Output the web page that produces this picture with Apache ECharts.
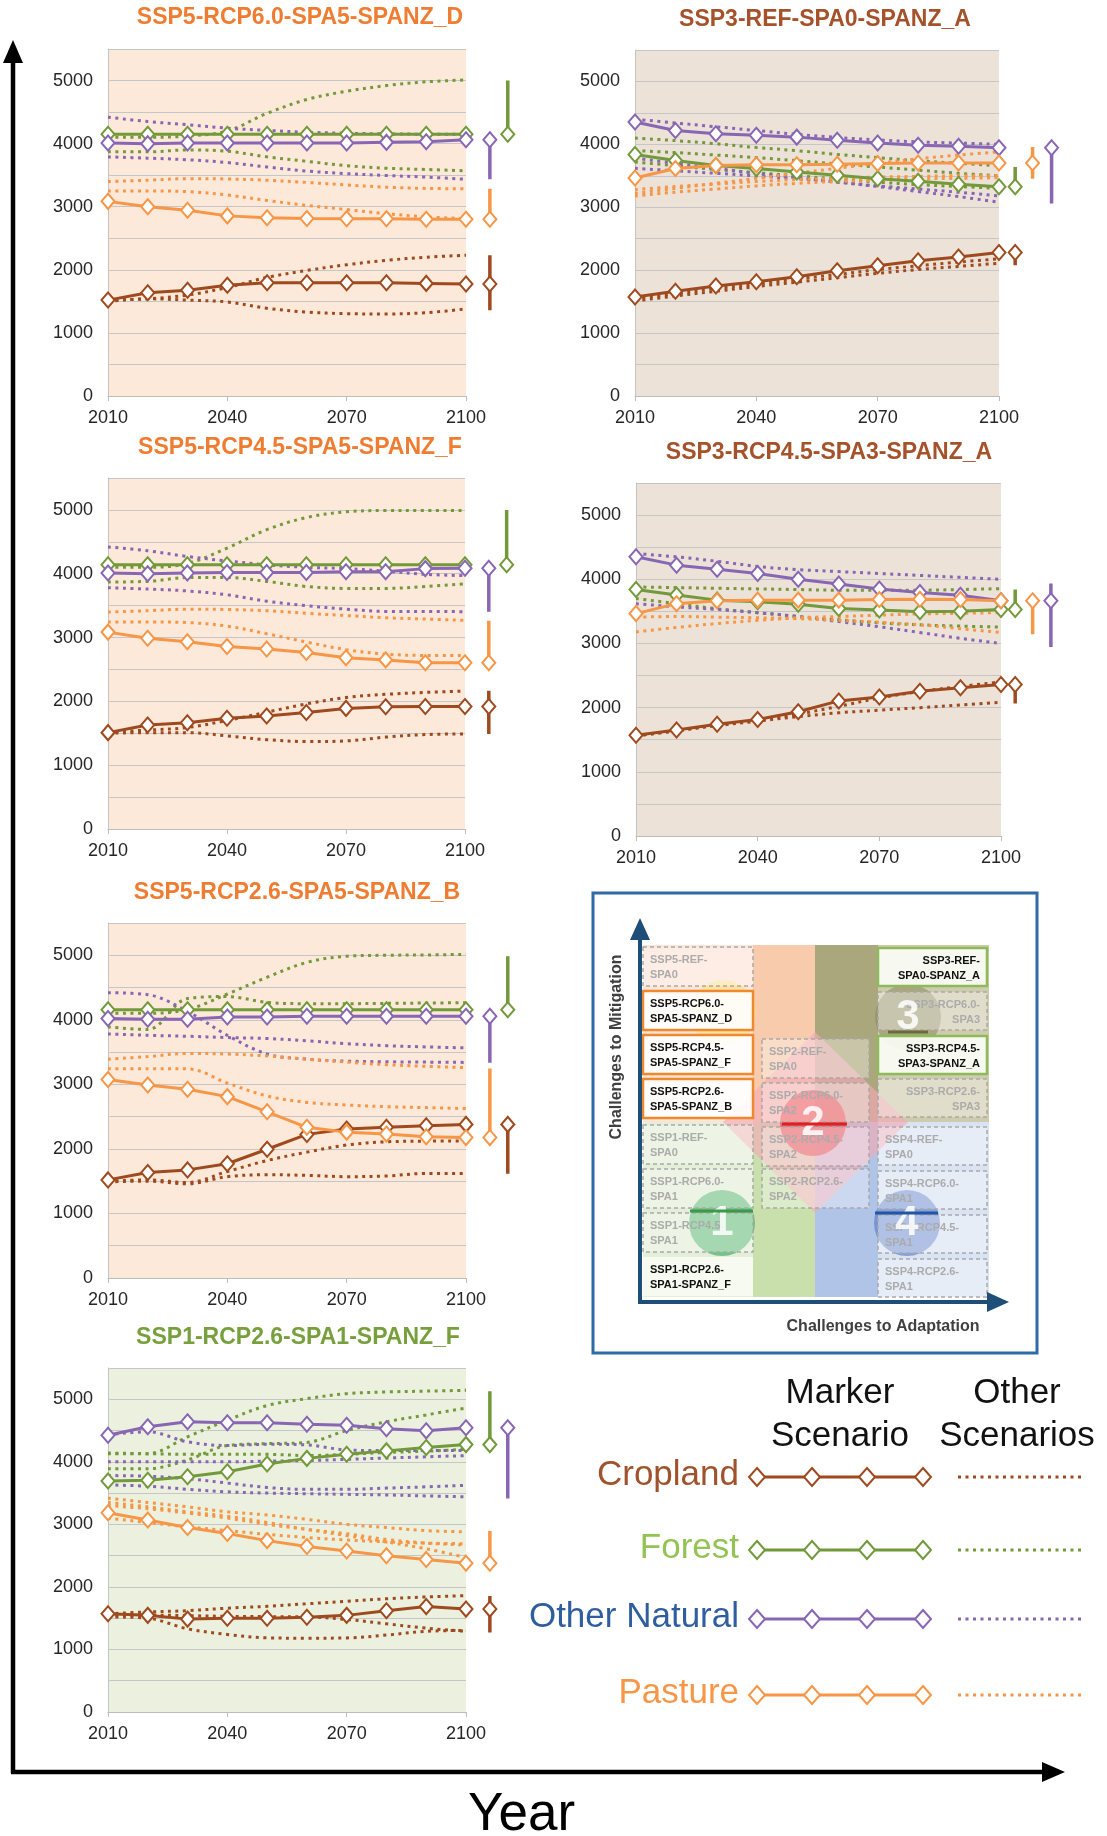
<!DOCTYPE html>
<html><head><meta charset="utf-8">
<script src="https://cdn.jsdelivr.net/npm/echarts@6/dist/echarts.min.js"></script>
<style>html,body{margin:0;padding:0;background:#fff}#c{width:1107px;height:1836px}</style>
</head><body><div id="c"></div>
<script>
// ---------- data ----------
const YEARS = [2010,2020,2030,2040,2050,2060,2070,2080,2090,2100];
const LAND_NAMES = ['Cropland','Forest','Other Natural','Pasture'];
const PANEL_TITLES = ['SSP5-RCP6.0-SPA5-SPANZ_D','SSP3-REF-SPA0-SPANZ_A','SSP5-RCP4.5-SPA5-SPANZ_F','SSP3-RCP4.5-SPA3-SPANZ_A','SSP5-RCP2.6-SPA5-SPANZ_B','SSP1-RCP2.6-SPA1-SPANZ_F'];

// Panel 1: SSP5-RCP6.0
const P1_CROP = [1520,1635,1675,1755,1795,1795,1795,1795,1785,1775];
const P1_FOR  = [4150,4150,4150,4150,4150,4150,4150,4150,4150,4150];
const P1_NAT  = [4010,4000,4010,4010,4010,4010,4010,4020,4030,4060];
const P1_PAS  = [3085,3000,2945,2855,2825,2815,2810,2810,2800,2800];
const P1_CROP_O = [[1520,1540,1600,1720,1880,1990,2080,2150,2200,2230],[1500,1540,1520,1490,1390,1330,1305,1300,1320,1380]];
const P1_FOR_O  = [[4100,4100,4120,4200,4480,4700,4830,4920,4980,5010],[3870,3870,3900,3880,3790,3720,3650,3610,3590,3570]];
const P1_NAT_O  = [[4420,4350,4300,4245,4210,4180,4165,4155,4150,4150],[3790,3770,3745,3700,3630,3565,3525,3495,3470,3435]];
const P1_PAS_O  = [[3400,3420,3445,3440,3420,3385,3345,3310,3290,3285],[3250,3250,3240,3185,3100,3020,2955,2890,2840,2810]];
const P1_RANGE_LO = [1360,4150,3435,2800];
const P1_RANGE_HI = [2230,5000,4060,3285];
const P1_RANGE_X  = [2106,2110.5,2106,2106];

// Panel 2: SSP3-REF
const P2_CROP = [1575,1665,1750,1815,1895,1990,2070,2150,2210,2280];
const P2_FOR  = [3840,3745,3665,3615,3560,3510,3455,3415,3365,3325];
const P2_NAT  = [4355,4220,4170,4145,4115,4065,4020,3985,3970,3945];
const P2_PAS  = [3465,3615,3665,3675,3675,3685,3695,3705,3705,3705];
const P2_CROP_O = [[1550,1630,1710,1780,1860,1930,2010,2070,2130,2180],[1510,1590,1665,1740,1810,1880,1950,2010,2060,2110]];
const P2_FOR_O  = [[4100,4060,4010,3950,3900,3840,3790,3740,3700,3660],[3900,3870,3830,3790,3740,3690,3640,3590,3540,3500],[3720,3660,3600,3550,3500,3450,3400,3360,3330,3300]];
const P2_NAT_O  = [[4400,4340,4280,4220,4160,4110,4070,4040,4020,4000],[3780,3700,3620,3540,3470,3400,3330,3250,3170,3080],[3620,3580,3540,3500,3450,3400,3340,3290,3240,3180]];
const P2_PAS_O  = [[3220,3300,3380,3460,3540,3620,3700,3770,3830,3880],[3280,3330,3370,3410,3440,3460,3480,3490,3500,3500],[3180,3240,3290,3340,3380,3410,3430,3450,3460,3470]];
const P2_RANGE_LO = [2080,3325,3060,3455];
const P2_RANGE_HI = [2300,3640,3945,3960];
const P2_RANGE_X  = [2104,2104,2113,2108.3];

// Panel 3: SSP5-RCP4.5
const P3_CROP = [1510,1630,1665,1735,1770,1825,1890,1915,1920,1920];
const P3_FOR  = [4140,4140,4140,4140,4140,4140,4140,4140,4140,4140];
const P3_NAT  = [4010,4000,4010,4020,4020,4020,4030,4030,4080,4085];
const P3_PAS  = [3085,2990,2935,2860,2820,2765,2685,2650,2605,2605];
const P3_CROP_O = [[1520,1550,1590,1700,1830,1960,2060,2110,2140,2160],[1500,1510,1510,1460,1400,1370,1380,1440,1480,1490]];
const P3_FOR_O  = [[4100,4100,4160,4400,4690,4880,4970,4990,4990,4990],[3870,3880,3940,3940,3880,3800,3770,3770,3800,3840]];
const P3_NAT_O  = [[4420,4360,4270,4200,4140,4100,4080,4040,3990,3970],[3780,3760,3730,3670,3570,3500,3445,3410,3410,3405]];
const P3_PAS_O  = [[3400,3420,3445,3440,3420,3380,3345,3310,3290,3270],[3245,3245,3235,3180,3060,2930,2810,2740,2720,2720]];
const P3_RANGE_LO = [1490,4140,3405,2605];
const P3_RANGE_HI = [2165,5000,4090,3265];
const P3_RANGE_X  = [2106,2110.5,2106,2106];

// Panel 4: SSP3-RCP4.5
const P4_CROP = [1570,1650,1740,1815,1935,2105,2165,2255,2310,2360];
const P4_FOR  = [3840,3755,3675,3650,3610,3545,3520,3495,3500,3530];
const P4_NAT  = [4350,4220,4155,4090,4000,3925,3850,3795,3750,3665];
const P4_PAS  = [3465,3620,3665,3675,3675,3675,3685,3690,3685,3665];
const P4_CROP_O = [[1560,1640,1730,1800,1900,2020,2150,2250,2330,2400],[1560,1640,1720,1790,1860,1920,1960,2000,2040,2085]];
const P4_FOR_O  = [[3880,3870,3860,3850,3840,3830,3830,3830,3840,3855],[3700,3620,3540,3480,3420,3370,3320,3290,3270,3255]];
const P4_NAT_O  = [[4400,4350,4280,4200,4150,4120,4090,4060,4030,4000],[3620,3570,3530,3480,3420,3340,3260,3170,3080,3000]];
const P4_PAS_O  = [[3410,3420,3410,3400,3385,3360,3330,3290,3230,3170],[3180,3250,3310,3360,3400,3420,3440,3460,3470,3480]];
const P4_RANGE_LO = [2065,3465,2945,3145];
const P4_RANGE_HI = [2375,3840,3935,3665];
const P4_RANGE_X  = [2103.5,2103.5,2112.3,2107.8];

// Panel 5: SSP5-RCP2.6
const P5_CROP = [1520,1635,1675,1770,1995,2225,2310,2335,2360,2380];
const P5_FOR  = [4155,4155,4155,4155,4155,4155,4155,4155,4155,4155];
const P5_NAT  = [4020,4010,4010,4045,4045,4055,4055,4055,4055,4055];
const P5_PAS  = [3075,2990,2925,2810,2575,2335,2260,2230,2190,2175];
const P5_CROP_O = [[1500,1520,1480,1650,1820,1950,2060,2110,2120,2125],[1490,1500,1460,1570,1600,1590,1570,1580,1620,1620]];
const P5_FOR_O  = [[4100,4100,4160,4400,4660,4890,4985,5000,5005,5015],[3890,3850,4330,4360,4270,4250,4250,4255,4260,4265]];
const P5_NAT_O  = [[4420,4390,4130,3760,3470,3390,3360,3350,3345,3340],[3780,3760,3745,3725,3710,3675,3630,3600,3580,3565]];
const P5_PAS_O  = [[3390,3430,3480,3470,3440,3390,3345,3305,3280,3260],[3240,3240,3240,3020,2820,2720,2680,2655,2640,2625]];
const P5_RANGE_LO = [1615,4150,3335,2165];
const P5_RANGE_HI = [2395,4985,4055,3245];
const P5_RANGE_X  = [2110.5,2110.5,2106,2106];

// Panel 6: SSP1-RCP2.6
const P6_CROP = [1570,1545,1485,1500,1500,1515,1545,1620,1685,1645];
const P6_FOR  = [3695,3705,3760,3840,3965,4055,4120,4175,4230,4275];
const P6_NAT  = [4425,4560,4640,4625,4625,4600,4585,4530,4495,4545];
const P6_PAS  = [3185,3070,2950,2855,2740,2645,2575,2500,2440,2380];
const P6_CROP_O = [[1570,1600,1620,1660,1690,1730,1770,1810,1840,1860],[1520,1500,1330,1240,1185,1180,1185,1230,1290,1305],[1550,1550,1540,1530,1525,1520,1480,1410,1340,1290]];
const P6_FOR_O  = [[4130,4130,4400,4665,4900,5010,5090,5117,5130,5144],[3890,3890,4030,4260,4290,4310,4500,4640,4750,4860],[4140,4130,4120,4120,4120,4100,4120,4150,4170,4200]];
const P6_NAT_O  = [[4430,4480,4320,4260,4280,4270,4190,4180,4180,4180],[4000,4000,4000,4000,4010,4020,4040,4060,4080,4100],[3780,3770,3730,3660,3590,3560,3560,3580,3600,3625],[3630,3610,3560,3520,3500,3490,3480,3470,3455,3440]];
const P6_PAS_O  = [[3420,3350,3280,3200,3150,3080,3000,2950,2900,2880],[3300,3250,3180,3100,3000,2920,2850,2760,2700,2670],[3350,3280,3200,3130,3030,2920,2820,2720,2610,2470],[3100,3030,2960,2900,2840,2790,2750,2720,2700,2690]];
const P6_RANGE_LO = [1270,4275,3415,2380];
const P6_RANGE_HI = [1855,5130,4545,2895];
const P6_RANGE_X  = [2106,2106,2110.5,2106];

// ---------- assembly ----------
const LAND_COLORS = ['#9E4A1E','#72993A','#8866B4','#F79646'];
const FONT = 'Liberation Sans, Arial, sans-serif';
const PANELS = [
  {m:[P1_CROP,P1_FOR,P1_NAT,P1_PAS], o:[P1_CROP_O,P1_FOR_O,P1_NAT_O,P1_PAS_O], lo:P1_RANGE_LO, hi:P1_RANGE_HI, rx:P1_RANGE_X},
  {m:[P2_CROP,P2_FOR,P2_NAT,P2_PAS], o:[P2_CROP_O,P2_FOR_O,P2_NAT_O,P2_PAS_O], lo:P2_RANGE_LO, hi:P2_RANGE_HI, rx:P2_RANGE_X},
  {m:[P3_CROP,P3_FOR,P3_NAT,P3_PAS], o:[P3_CROP_O,P3_FOR_O,P3_NAT_O,P3_PAS_O], lo:P3_RANGE_LO, hi:P3_RANGE_HI, rx:P3_RANGE_X},
  {m:[P4_CROP,P4_FOR,P4_NAT,P4_PAS], o:[P4_CROP_O,P4_FOR_O,P4_NAT_O,P4_PAS_O], lo:P4_RANGE_LO, hi:P4_RANGE_HI, rx:P4_RANGE_X},
  {m:[P5_CROP,P5_FOR,P5_NAT,P5_PAS], o:[P5_CROP_O,P5_FOR_O,P5_NAT_O,P5_PAS_O], lo:P5_RANGE_LO, hi:P5_RANGE_HI, rx:P5_RANGE_X},
  {m:[P6_CROP,P6_FOR,P6_NAT,P6_PAS], o:[P6_CROP_O,P6_FOR_O,P6_NAT_O,P6_PAS_O], lo:P6_RANGE_LO, hi:P6_RANGE_HI, rx:P6_RANGE_X}
];
const LAYOUT = [
  {left:108, top:49,   width:358, height:347, bg:'#FDE9D9', tc:'#EF7C30', tx:300, ty:18},
  {left:635, top:50,   width:364, height:346, bg:'#ECE2D7', tc:'#A5512A', tx:825, ty:20},
  {left:108, top:478,  width:357, height:351, bg:'#FDE9D9', tc:'#EF7C30', tx:300, ty:448},
  {left:636, top:483,  width:365, height:353, bg:'#ECE2D7', tc:'#A5512A', tx:829, ty:453},
  {left:108, top:923,  width:358, height:355, bg:'#FDE9D9', tc:'#EF7C30', tx:297, ty:893},
  {left:108, top:1368, width:358, height:344, bg:'#EBF1DE', tc:'#77A03C', tx:298, ty:1338}
];
const RANGE_XMAX = 2115;

const grids=[], xAxes=[], yAxes=[], series=[];
const pts = arr => YEARS.map((y,k)=>[y, arr[k]]);
const N = LAYOUT.length;
LAYOUT.forEach((L,i)=>{
  grids.push({left:L.left, top:L.top, width:L.width, height:L.height, show:true, backgroundColor:L.bg, borderWidth:0});
  xAxes.push({gridIndex:i, type:'value', min:2010, max:2100, interval:30,
    axisLine:{lineStyle:{color:'#bdbdbd', width:1}}, axisTick:{show:true, length:5, lineStyle:{color:'#bdbdbd'}},
    splitLine:{show:false},
    axisLabel:{fontSize:18, color:'#262626', margin:13, fontFamily:FONT, formatter:v=>String(v)}});
  yAxes.push({gridIndex:i, type:'value', min:0, max:5500, interval:500,
    axisLine:{show:true, lineStyle:{color:'#c4c4c4'}}, axisTick:{show:false},
    splitLine:{lineStyle:{color:'#c6c6c6', width:1}},
    axisLabel:{fontSize:18, color:'#262626', margin:15, fontFamily:FONT, formatter:v=> v%1000===0 ? String(v) : ''}});
  const P = PANELS[i];
  P.o.forEach((group,li)=>{
    group.forEach(arr=>{
      series.push({type:'line', xAxisIndex:i, yAxisIndex:i, data:pts(arr), symbol:'none', smooth:0.35, silent:true, z:2,
        lineStyle:{color:LAND_COLORS[li], width:3, type:[3,4.5], cap:'butt'}});
    });
  });
  P.m.forEach((arr,li)=>{
    series.push({type:'line', xAxisIndex:i, yAxisIndex:i, data:pts(arr), symbol:'diamond', symbolSize:[13,15], showSymbol:true, silent:true, z:3,
      lineStyle:{color:LAND_COLORS[li], width:3}, itemStyle:{color:'#fff', borderColor:LAND_COLORS[li], borderWidth:2}});
  });
});
// wider, invisible grids sharing each panel's scale, for the 2100 range bars beside the plots
LAYOUT.forEach((L,i)=>{
  const gi = N + i;
  grids.push({left:L.left, top:L.top, width:L.width*(RANGE_XMAX-2010)/90, height:L.height, show:false});
  xAxes.push({gridIndex:gi, type:'value', min:2010, max:RANGE_XMAX, show:false});
  yAxes.push({gridIndex:gi, type:'value', min:0, max:5500, show:false});
  const P = PANELS[i];
  P.m.forEach((arr,li)=>{
    series.push({type:'line', xAxisIndex:gi, yAxisIndex:gi, silent:true, z:4, symbol:'none',
      data:[[P.rx[li], P.lo[li]],[P.rx[li], P.hi[li]]], lineStyle:{color:LAND_COLORS[li], width:3.5}});
    series.push({type:'scatter', xAxisIndex:gi, yAxisIndex:gi, silent:true, z:5,
      data:[[P.rx[li], arr[arr.length-1]]], symbol:'diamond', symbolSize:[13,15],
      itemStyle:{color:'#fff', borderColor:LAND_COLORS[li], borderWidth:2, opacity:1}});
  });
});

// ---------- graphic helpers ----------
const G=[];
function T(x,y,text,font,fill,align,va,rot){ G.push({type:'text', x:x, y:y, rotation:rot||0, z:20, silent:true,
  style:{text:text, font:font, fill:fill, align:align||'center', textAlign:align||'center', verticalAlign:va||'middle', textVerticalAlign:va||'middle'}}); }
function R(x,y,w,h,fill,stroke,lw,dash,z){ G.push({type:'rect', z:z||10, silent:true, shape:{x:x,y:y,width:w,height:h},
  style:{fill:fill||'none', stroke:stroke||null, lineWidth:lw||0, lineDash:dash||null}}); }
function Ln(x1,y1,x2,y2,stroke,lw,dash,z){ G.push({type:'line', z:z||10, silent:true, shape:{x1:x1,y1:y1,x2:x2,y2:y2},
  style:{stroke:stroke, lineWidth:lw, lineDash:dash||null, lineCap:'butt'}}); }
function Pg(points,fill,stroke,lw,z){ G.push({type:'polygon', z:z||10, silent:true, shape:{points:points},
  style:{fill:fill, stroke:stroke||null, lineWidth:lw||0}}); }
function C(cx,cy,r,fill,z){ G.push({type:'circle', z:z||10, silent:true, shape:{cx:cx,cy:cy,r:r}, style:{fill:fill}}); }

// titles
LAYOUT.forEach((L,i)=> T(L.tx, L.ty, PANEL_TITLES[i], 'bold 23px '+FONT, L.tc));

// big axes
Ln(13,1773,13,58,'#000',4.5); Pg([[13,40],[3,63],[23,63]],'#000');
Ln(11,1772,1044,1772,'#000',4.5); Pg([[1065,1772],[1042,1762],[1042,1782]],'#000');
T(468,1815,'Year','53px '+FONT,'#000','left');

// inset diagram
R(593,893,444,460,'#fff','#2E6AA8',3,null,9);
R(643,945,110,177,'#FCE4D6'); R(753,945,62,177,'#F8CBAD'); R(815,945,63,177,'#ABA77C'); R(878,945,111,177,'#CFCCAE');
R(643,1122,110,175,'#E3EFD8'); R(753,1122,62,175,'#C9E0AC'); R(815,1122,63,175,'#AFC4E6'); R(878,1122,111,175,'#DAE3F3');
Pg([[815,1032],[908,1122],[815,1213],[723,1122]],'rgba(245,170,182,0.65)');
C(723,1013,33,'rgba(252,224,120,0.55)',11); C(908,1017,33,'rgba(140,135,95,0.55)',11);
C(813,1123,33,'rgba(235,80,90,0.75)',11); C(722,1223,33,'rgba(80,180,110,0.75)',11); C(907,1223,33,'rgba(90,125,200,0.65)',11);

const DIM={fill:'rgba(255,255,255,0.35)', stroke:'#A9A9A9', lw:1.5, dash:[4,3], tc:'#ABABAB'};
const HLO={fill:'rgba(255,255,255,0.9)', stroke:'#F0882E', lw:2.5, dash:null, tc:'#111'};
const HLG={fill:'rgba(250,252,245,0.93)', stroke:'#8DBB5A', lw:2.5, dash:null, tc:'#111'};
const HLP={fill:'rgba(248,251,242,0.92)', stroke:null, lw:0, dash:null, tc:'#111'};
function cell(x,y,w,h,s,l1,l2,align){
  R(x,y,w,h,s.fill,s.stroke,s.lw,s.dash,12);
  const tx = align==='right' ? x+w-7 : x+7;
  T(tx,y+13,l1,'bold 11px '+FONT,s.tc,align); T(tx,y+28,l2,'bold 11px '+FONT,s.tc,align);
}
const C1=[947,991,1035,1079,1125,1169,1213,1257];
[[DIM,'SSP5-REF-','SPA0'],[HLO,'SSP5-RCP6.0-','SPA5-SPANZ_D'],[HLO,'SSP5-RCP4.5-','SPA5-SPANZ_F'],[HLO,'SSP5-RCP2.6-','SPA5-SPANZ_B'],
 [DIM,'SSP1-REF-','SPA0'],[DIM,'SSP1-RCP6.0-','SPA1'],[DIM,'SSP1-RCP4.5-','SPA1'],[HLP,'SSP1-RCP2.6-','SPA1-SPANZ_F']]
 .forEach((c,k)=>cell(643,C1[k],110,39,c[0],c[1],c[2],'left'));
const C2=[1039,1083,1127,1169];
[['SSP2-REF-','SPA0'],['SSP2-RCP6.0-','SPA2'],['SSP2-RCP4.5-','SPA2'],['SSP2-RCP2.6-','SPA2']]
 .forEach((c,k)=>cell(762,C2[k],107,39,DIM,c[0],c[1],'left'));
const C3=[948,992,1036,1079,1127,1171,1215,1259];
[[HLG,'SSP3-REF-','SPA0-SPANZ_A','right'],[DIM,'SSP3-RCP6.0-','SPA3','right'],[HLG,'SSP3-RCP4.5-','SPA3-SPANZ_A','right'],[DIM,'SSP3-RCP2.6-','SPA3','right'],
 [DIM,'SSP4-REF-','SPA0','left'],[DIM,'SSP4-RCP6.0-','SPA1','left'],[DIM,'SSP4-RCP4.5-','SPA1','left'],[DIM,'SSP4-RCP2.6-','SPA1','left']]
 .forEach((c,k)=>cell(878,C3[k],109,38,c[0],c[1],c[2],c[3]));
Ln(782,1124,847,1124,'#E02020',3,null,21); Ln(690,1211,753,1211,'#3A9A4A',3,null,21);
Ln(875,1213,938,1213,'#2255AA',3,null,21); Ln(888,1032,928,1032,'#6B6A3A',3,null,21);
[['1',722,1223],['2',813,1123],['3',908,1017],['4',907,1223]].forEach(n=>T(n[1],n[2],n[0],'bold 42px '+FONT,'rgba(255,255,255,0.85)'));
Ln(640,1302,640,937,'#1F4E79',4,null,22); Pg([[640,918],[630,940],[650,940]],'#1F4E79',null,0,22);
Ln(638,1302,990,1302,'#1F4E79',4,null,22); Pg([[1009,1302],[987,1292],[987,1312]],'#1F4E79',null,0,22);
T(617,1047,'Challenges to Mitigation','bold 16px '+FONT,'#404040','center','middle',Math.PI/2);
T(883,1327,'Challenges to Adaptation','bold 16px '+FONT,'#404040');

// legend
T(840,1393,'Marker','35px '+FONT,'#111'); T(840,1436,'Scenario','35px '+FONT,'#111');
T(1017,1393,'Other','35px '+FONT,'#111'); T(1017,1436,'Scenarios','35px '+FONT,'#111');
const LEG_Y=[1477,1550,1619,1695];
const LEG_TC=['#A0522D','#92C353','#2F5E9E','#F79646'];
LAND_NAMES.forEach((nm,k)=>{
  const y=LEG_Y[k], col=LAND_COLORS[k];
  T(739,y-2,nm,'35px '+FONT,LEG_TC[k],'right');
  Ln(757,y,923,y,col,3);
  [757,812,867,923].forEach(cx=>Pg([[cx,y-9],[cx+8,y],[cx,y+9],[cx-8,y]],'#fff',col,2,11));
  Ln(958,y,1081,y,col,3,[3,4.5]);
});

const chart = echarts.init(document.getElementById('c'), null, {renderer:'canvas', width:1107, height:1836, devicePixelRatio:1});
chart.setOption({animation:false, backgroundColor:'#fff', grid:grids, xAxis:xAxes, yAxis:yAxes, series:series, graphic:{elements:G}});
</script></body></html>
